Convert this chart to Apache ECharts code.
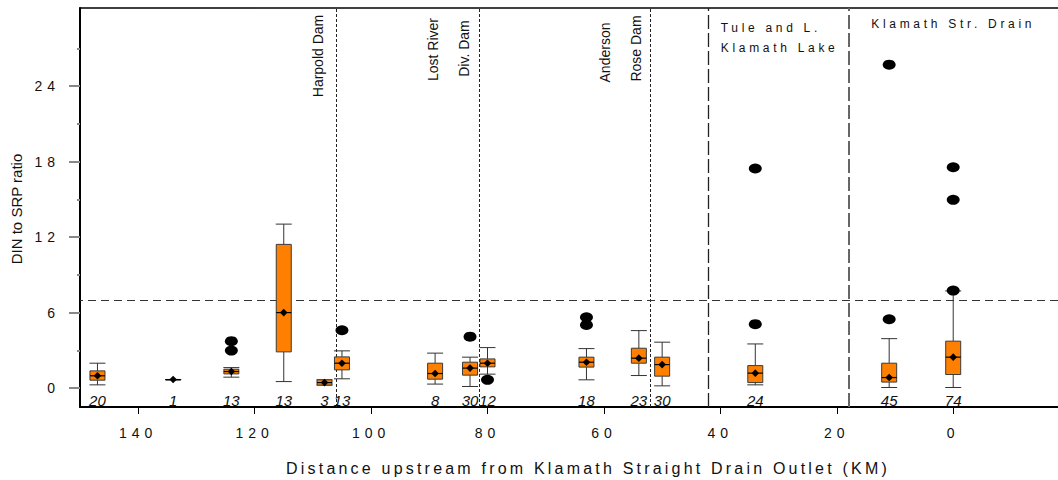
<!DOCTYPE html>
<html>
<head>
<meta charset="utf-8">
<script src="https://cdn.jsdelivr.net/npm/echarts@6/dist/echarts.min.js"></script>
<style>
  html, body { margin: 0; padding: 0; background: #fff; }
  #chart { width: 1058px; height: 480px; }
  /* wide letter spacing for the axis title, tick labels and reach labels */
  #chart text[style*="Arial"] { letter-spacing: 3.2px; }
  #chart text[style*="Helvetica"] { letter-spacing: 5px; }
  #chart text[style*="Arimo"] { letter-spacing: 3.7px; }
</style>
</head>
<body>
<div id="chart"></div>
<script>
// Sampling stations, km upstream of the Klamath Straight Drain outlet
const stationKm     = [147, 134, 124, 115, 108, 105, 89, 83, 80, 63, 54, 50, 34, 11, 0];
const sampleCounts  = [20, 1, 13, 13, 3, 13, 8, 30, 12, 18, 23, 30, 24, 45, 74];
// DIN:SRP box statistics per station
const whiskerLow    = [0.26, 0.68, 0.87, 0.52, 0.24, 0.74, 0.32, 0.13, 1.11, 0.66, 1.00, 0.18, 0.26, 0.05, 0.05];
const quartile1     = [0.63, 0.68, 1.13, 2.88, 0.24, 1.45, 0.71, 1.03, 1.69, 1.67, 1.98, 0.95, 0.44, 0.48, 1.08];
const medians       = [0.98, 0.68, 1.32, 6.00, 0.44, 1.98, 1.16, 1.59, 1.98, 2.06, 2.38, 1.87, 1.19, 0.84, 2.46];
const quartile3     = [1.37, 0.68, 1.50, 11.42, 0.66, 2.48, 1.98, 2.06, 2.32, 2.46, 3.17, 2.46, 1.79, 1.98, 3.73];
const whiskerHigh   = [1.98, 0.68, 1.63, 13.03, 0.66, 2.96, 2.78, 2.46, 3.22, 3.14, 4.57, 3.65, 3.51, 3.93, 7.72];
// Outlying observations
const outlierKm     = [124, 124, 105, 83, 80, 63, 63, 34, 34, 11, 11, 0, 0, 0];
const outlierValues = [2.98, 3.73, 4.60, 4.09, 0.66, 5.02, 5.63, 5.08, 17.45, 5.47, 25.70, 7.75, 14.96, 17.55];
// Reference features
const damKm         = [106, 81.4, 52];
const damLabels     = [['Harpold Dam'], ['Lost River', 'Div. Dam'], ['Anderson', 'Rose Dam']];
const reachKm       = [42, 18];
const lakeLabel     = ['Tule and L.', 'Klamath Lake'];
const drainLabel    = 'Klamath Str. Drain';
const redfieldRatio = 7;
// Axis ticks
const xTickValues   = [0, 20, 40, 60, 80, 100, 120, 140];
const yTickValues   = [0, 6, 12, 18, 24];
const yMinorValues  = [3, 9, 15, 21, 27];
const xTitle = 'Distance upstream from Klamath Straight Drain Outlet (KM)';
const yTitle = 'DIN to SRP ratio';

const FONT = 'Liberation Sans';
const X_MIN = -18, X_MAX = 150, Y_MIN = -1.5, Y_MAX = 30.2;
const boxData = stationKm.map((km, i) =>
  [km, whiskerLow[i], quartile1[i], medians[i], quartile3[i], whiskerHigh[i], sampleCounts[i]]);
const outlierData = outlierKm.map((km, i) => [km, outlierValues[i]]);

const chart = echarts.init(document.getElementById('chart'), null, { renderer: 'svg' });

function renderBox(params, api) {
  const km = api.value(0);
  const pt = v => api.coord([km, v]);
  const x = pt(0)[0];
  const yLo = pt(api.value(1))[1], yQ1 = pt(api.value(2))[1], yMed = pt(api.value(3))[1];
  const yQ3 = pt(api.value(4))[1], yHi = pt(api.value(5))[1];
  const half = 7.5, cap = 8, d = 3.8;
  const yBottom = params.coordSys.y + params.coordSys.height;
  const stroke = { stroke: '#333', lineWidth: 1 };
  return {
    type: 'group',
    children: [
      { type: 'line', shape: { x1: x, y1: yQ3, x2: x, y2: yHi }, style: stroke },
      { type: 'line', shape: { x1: x, y1: yQ1, x2: x, y2: yLo }, style: stroke },
      { type: 'line', shape: { x1: x - cap, y1: yHi, x2: x + cap, y2: yHi }, style: stroke },
      { type: 'line', shape: { x1: x - cap, y1: yLo, x2: x + cap, y2: yLo }, style: stroke },
      { type: 'rect', shape: { x: x - half, y: yQ3, width: half * 2, height: Math.max(yQ1 - yQ3, 0.5) },
        style: { fill: '#ff8000', stroke: '#3a3a3a', lineWidth: 1 } },
      { type: 'line', shape: { x1: x - half, y1: yMed, x2: x + half, y2: yMed }, style: { stroke: '#000', lineWidth: 1.2 } },
      { type: 'polygon', shape: { points: [[x, yMed - d], [x + d, yMed], [x, yMed + d], [x - d, yMed]] },
        style: { fill: '#000' } },
      { type: 'text', x: x, y: yBottom - 7,
        style: { text: String(api.value(6)), fontFamily: FONT, fontSize: 15, fontStyle: 'italic',
                 fill: '#111', align: 'center', verticalAlign: 'middle' } }
    ]
  };
}

const dotted = { type: [3, 2], color: '#222', width: 1 };
const longDash = [{ type: [14, 4], color: '#222', width: 1.3 }, { type: [14, 4], color: '#666', width: 2 }];

chart.setOption({
  animation: false,
  grid: { left: 80, right: 0, top: 8, bottom: 73 },
  xAxis: [{
    type: 'value', min: X_MIN, max: X_MAX, inverse: true,
    splitLine: { show: false },
    axisLine: { show: true, onZero: false, lineStyle: { color: '#000', width: 2 } },
    axisTick: { show: true, customValues: xTickValues, length: 7, lineStyle: { color: '#000', width: 1 } },
    axisLabel: { customValues: xTickValues, margin: 19, fontSize: 14, color: '#111',
                 fontFamily: FONT + ', Helvetica' }
  }, {
    // top edge of the frame
    type: 'value', min: X_MIN, max: X_MAX, inverse: true, position: 'top',
    splitLine: { show: false },
    axisLine: { show: true, onZero: false, lineStyle: { color: '#000', width: 1.5 } },
    axisTick: { show: false },
    axisLabel: { show: false }
  }],
  yAxis: [{
    type: 'value', min: Y_MIN, max: Y_MAX,
    splitLine: { show: false },
    axisLine: { show: true, onZero: false, lineStyle: { color: '#000', width: 2 } },
    axisTick: { show: true, customValues: yTickValues, length: 11, lineStyle: { color: '#888', width: 2 } },
    axisLabel: { customValues: yTickValues, margin: 20, fontSize: 14, color: '#111',
                 fontFamily: FONT + ', Helvetica' }
  }, {
    type: 'value', min: Y_MIN, max: Y_MAX, position: 'left',
    splitLine: { show: false },
    axisLine: { show: false, onZero: false },
    axisTick: { show: true, customValues: yMinorValues, length: 3, lineStyle: { color: '#888', width: 2 } },
    axisLabel: { show: false }
  }],
  series: [{
    type: 'custom', z: 3, clip: false,
    renderItem: renderBox,
    data: boxData
  }, {
    type: 'scatter', z: 4,
    symbol: 'circle', symbolSize: [13, 10],
    itemStyle: { color: '#000', opacity: 1 },
    data: outlierData,
    markLine: {
      z: 1, silent: true, symbol: ['none', 'none'], label: { show: false },
      data: [
        ...damKm.map(km => ({ xAxis: km, lineStyle: dotted })),
        ...reachKm.map((km, i) => ({ xAxis: km, lineStyle: longDash[i] })),
        { yAxis: redfieldRatio, lineStyle: { type: [8, 5], color: '#333', width: 1 } }
      ]
    }
  }]
});

// Annotations placed relative to the reference lines
const px = (km, v) => chart.convertToPixel({ xAxisIndex: 0, yAxisIndex: 0 }, [km, v]);
const damLabelLayout = [
  [{ dx: -18, cy: 56 }],
  [{ dx: -46, cy: 49.5 }, { dx: -15, cy: 48.5 }],
  [{ dx: -46, cy: 52.5 }, { dx: -15, cy: 48.5 }]
];
const graphics = [];
damKm.forEach((km, i) => {
  const lx = px(km, 0)[0];
  damLabels[i].forEach((t, j) => {
    const lay = damLabelLayout[i][j];
    graphics.push({ type: 'text', x: lx + lay.dx, y: lay.cy, rotation: Math.PI / 2,
      style: { text: t, fontFamily: FONT, fontSize: 14, fill: '#111', align: 'center', verticalAlign: 'middle' } });
  });
});
const lakeX = px(reachKm[0], 0)[0] + 12;
lakeLabel.forEach((t, j) => {
  graphics.push({ type: 'text', x: lakeX, y: 28 + j * 20,
    style: { text: t, fontFamily: FONT + ', Arimo', fontSize: 12, fill: '#111', align: 'left', verticalAlign: 'middle' } });
});
graphics.push({ type: 'text', x: px(0, 0)[0], y: 24,
  style: { text: drainLabel, fontFamily: FONT + ', Arimo', fontSize: 12, fill: '#111', align: 'center', verticalAlign: 'middle' } });
graphics.push({ type: 'text', x: 588, y: 468,
  style: { text: xTitle, fontFamily: FONT + ', Arial', fontSize: 16, fill: '#111', align: 'center', verticalAlign: 'middle' } });
graphics.push({ type: 'text', x: 16, y: 209, rotation: Math.PI / 2,
  style: { text: yTitle, fontFamily: FONT, fontSize: 15, fill: '#111', align: 'center', verticalAlign: 'middle' } });
chart.setOption({ graphic: graphics });
</script>
</body>
</html>
